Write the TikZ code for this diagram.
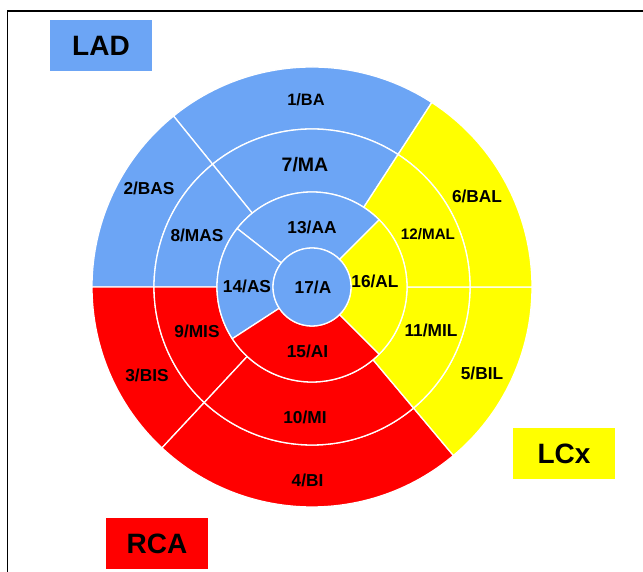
\documentclass[tikz,border=0pt]{standalone}
\usepackage{fontspec}
\setmainfont{Liberation Sans}

\definecolor{lad}{RGB}{108,165,245}
\definecolor{rca}{RGB}{255,0,0}
\definecolor{lcx}{RGB}{255,255,0}

\begin{document}
\begin{tikzpicture}[
        x=1pt, y=1pt,
        segmento/.style={draw=white, line width=1.3pt},
        rotulo/.style={font=\bfseries\fontsize{17.3}{18}\selectfont, inner sep=0pt, text height=12.4pt, text depth=0pt},
        legenda/.style={font=\bfseries\fontsize{28}{30}\selectfont, minimum width=102pt, minimum height=51pt, inner sep=0pt, text height=20pt, text depth=0pt}
        ]
        \useasboundingbox (0,0) rectangle (643,572);
        \draw[line width=1.5pt] (7.5,0) -- (7.5,561) -- (643,561);

        \begin{scope}[shift={(312,285)}] % centro do alvo
        % anel basal
        \filldraw[segmento, fill=lad] (57:220pt) arc (57:129:220pt) -- (129:158pt) arc (129:57:158pt) -- cycle;
        \filldraw[segmento, fill=lad] (129:220pt) arc (129:180:220pt) -- (180:158pt) arc (180:129:158pt) -- cycle;
        \filldraw[segmento, fill=rca] (180:220pt) arc (180:227:220pt) -- (227:158pt) arc (227:180:158pt) -- cycle;
        \filldraw[segmento, fill=rca] (227:220pt) arc (227:310:220pt) -- (310:158pt) arc (310:227:158pt) -- cycle;
        \filldraw[segmento, fill=lcx] (310:220pt) arc (310:360:220pt) -- (360:158pt) arc (360:310:158pt) -- cycle;
        \filldraw[segmento, fill=lcx] (0:220pt) arc (0:57:220pt) -- (57:158pt) arc (57:0:158pt) -- cycle;
        % anel medio
        \filldraw[segmento, fill=lad] (57:158pt) arc (57:129:158pt) -- (129:95pt) arc (129:57:95pt) -- cycle;
        \filldraw[segmento, fill=lad] (129:158pt) arc (129:180:158pt) -- (180:95pt) arc (180:129:95pt) -- cycle;
        \filldraw[segmento, fill=rca] (180:158pt) arc (180:227:158pt) -- (227:95pt) arc (227:180:95pt) -- cycle;
        \filldraw[segmento, fill=rca] (227:158pt) arc (227:310:158pt) -- (310:95pt) arc (310:227:95pt) -- cycle;
        \filldraw[segmento, fill=lcx] (310:158pt) arc (310:360:158pt) -- (360:95pt) arc (360:310:95pt) -- cycle;
        \filldraw[segmento, fill=lcx] (0:158pt) arc (0:57:158pt) -- (57:95pt) arc (57:0:95pt) -- cycle;
        % anel apical
        \filldraw[segmento, fill=lad] (45:95pt) arc (45:142:95pt) -- (142:39pt) arc (142:45:39pt) -- cycle;
        \filldraw[segmento, fill=lad] (142:95pt) arc (142:213:95pt) -- (213:39pt) arc (213:142:39pt) -- cycle;
        \filldraw[segmento, fill=rca] (213:95pt) arc (213:315:95pt) -- (315:39pt) arc (315:213:39pt) -- cycle;
        \filldraw[segmento, fill=lcx] (315:95pt) arc (315:405:95pt) -- (405:39pt) arc (405:315:39pt) -- cycle;
        \filldraw[segmento, fill=lad] (0,0) circle (39pt);

        \node[rotulo, font=\bfseries\fontsize{16.4}{18}\selectfont] (ba) at (-6,188) {1/BA};
        \node[rotulo] (bas) at (-163,99) {2/BAS};
        \node[rotulo] (bis) at (-165,-88) {3/BIS};
        \node[rotulo] (bi) at (-4.5,-193) {4/BI};
        \node[rotulo] (bil) at (170,-86) {5/BIL};
        \node[rotulo] (bal) at (165,91) {6/BAL};
        \node[rotulo, font=\bfseries\fontsize{19.5}{20}\selectfont, text height=14pt] (ma) at (-7,122) {7/MA};
        \node[rotulo] (mas) at (-115,52) {8/MAS};
        \node[rotulo] (mis) at (-115,-44) {9/MIS};
        \node[rotulo] (mi) at (-7,-130) {10/MI};
        \node[rotulo] (mil) at (119,-43) {11/MIL};
        \node[rotulo, font=\bfseries\fontsize{15.2}{16}\selectfont, text height=11pt] (mal) at (116,53) {12/MAL};
        \node[rotulo] (aa) at (0,59.5) {13/AA};
        \node[rotulo] (as) at (-65,1) {14/AS};
        \node[rotulo] (ai) at (-4.5,-64) {15/AI};
        \node[rotulo] (al) at (63,6) {16/AL};
        \node[rotulo] (a) at (1,0) {17/A};
        \end{scope}

        \node[legenda, fill=lad] (nlad) at (101,526) {LAD};
        \node[legenda, fill=rca] (nrca) at (157,28.5) {RCA};
        \node[legenda, fill=lcx] (nlcx) at (564,118.5) {LCx};
    \end{tikzpicture}
\end{document}
